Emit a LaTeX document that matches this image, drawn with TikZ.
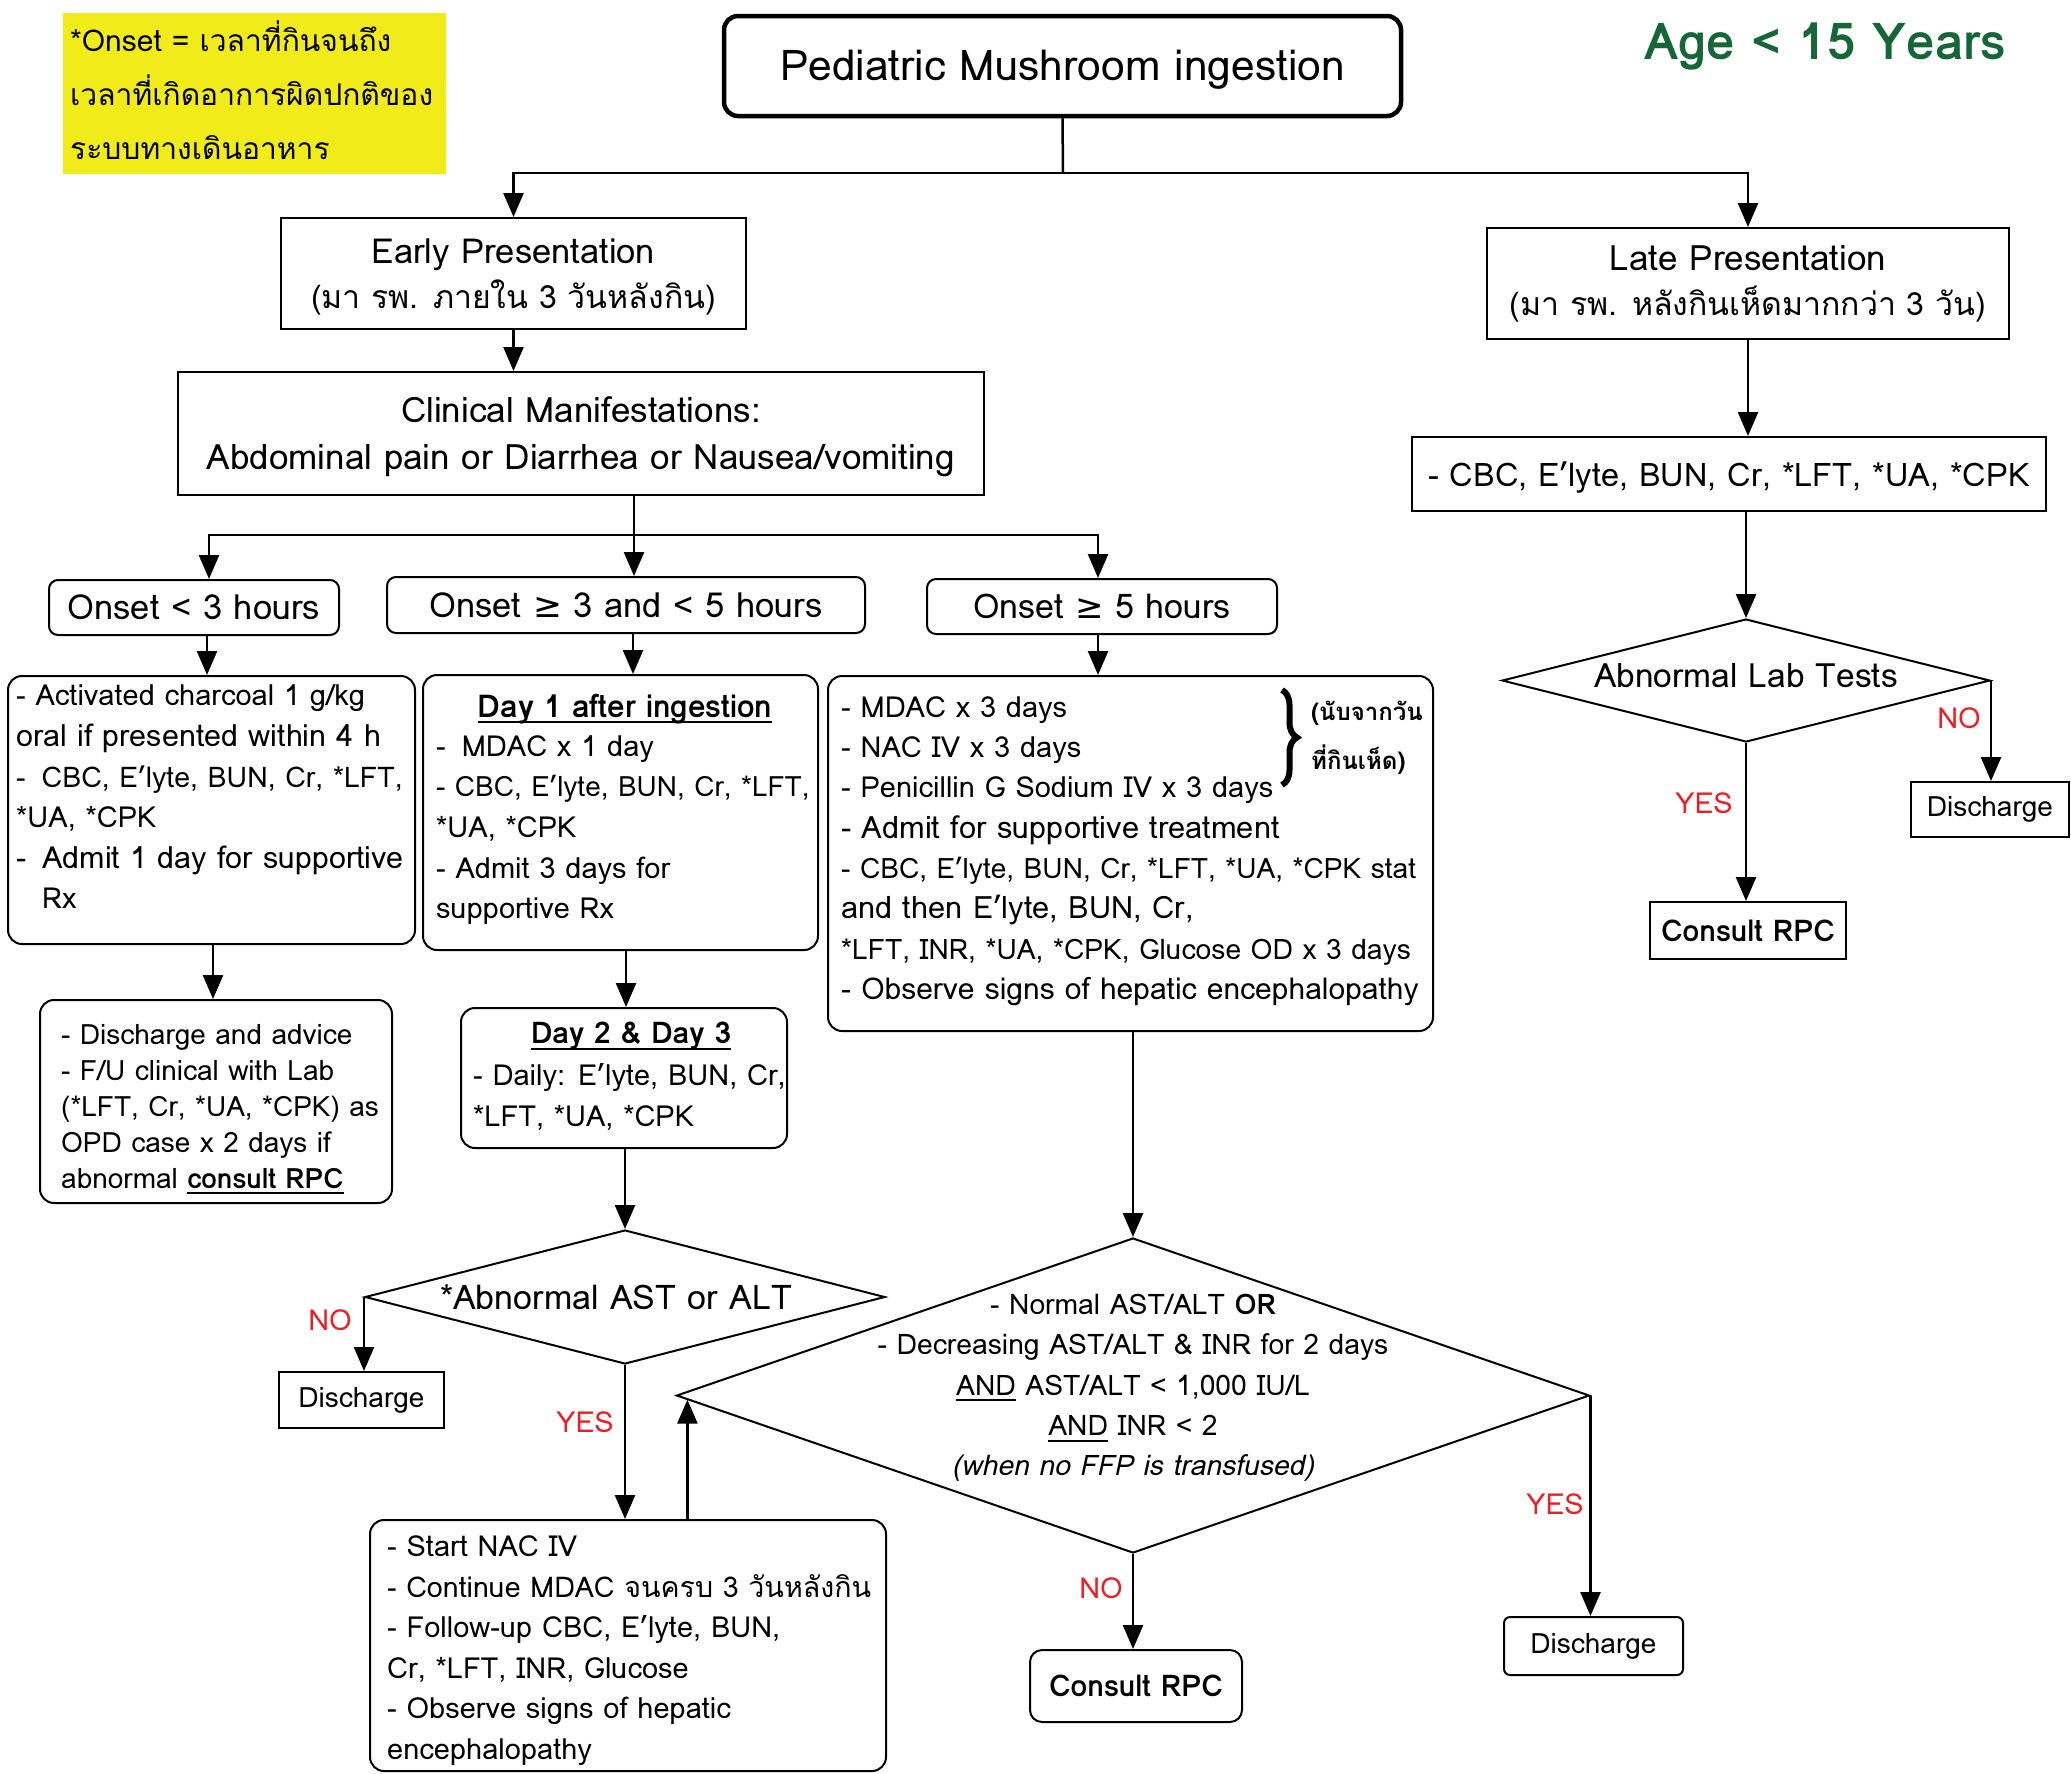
\documentclass[tikz,border=0pt]{standalone}
\usepackage{fontspec}
\setmainfont[Script=Thai]{Loma}
\newfontfamily\symf{DejaVu Sans}
\usetikzlibrary{arrows.meta,shapes.geometric,calc,decorations.pathreplacing}
\definecolor{labred}{RGB}{232,32,40}
\definecolor{agegreen}{RGB}{22,102,56}
\definecolor{notebg}{RGB}{241,235,26}
\newcommand\fs[2]{\fontsize{#1}{#2}\selectfont}
\newcommand\sz[1]{\fontsize{#1}{40.5}\selectfont}
\newcommand\myul[1]{\setbox0\hbox{#1}\rlap{\rule[-6pt]{\wd0}{2pt}}\box0\relax}
\newcommand\gee{{\symf ≥}}
\tikzset{
  bx/.style={draw, line width=2pt, inner sep=0pt},
  rbx/.style={bx, rounded corners=14pt},
  ln/.style={line width=2.5pt},
  arr/.style={line width=2.5pt, -{Triangle[length=24pt,width=20pt]}},
  lbl/.style={text=labred, inner sep=0pt, font=\fs{29}{34}},
  body/.style={anchor=west, align=left, inner sep=0pt, font=\fs{29}{40.6}},
  dia/.style={draw, diamond, line width=2pt, inner sep=0pt},
  tx/.style={inner sep=0pt, align=center},
}
\begin{document}
\begin{tikzpicture}[x=1pt,y=-1pt]
\useasboundingbox (0,0) rectangle (2071,1773);

% note
\node[fill=notebg, inner sep=0, minimum width=383pt, minimum height=161pt] (note) at (254.5,93.5) {};
\node[anchor=west, align=left, inner sep=0, font=\fs{30}{54}] (notetxt) at (70,90) {*Onset = เวลาที่กินจนถึง\\เวลาที่เกิดอาการผิดปกติของ\\ระบบทางเดินอาหาร};

% title
\node[bx, rounded corners=14pt, line width=4.5pt, minimum width=677pt, minimum height=100pt] (title) at (1062.5,66) {};
\node[tx, font=\fs{42.5}{48}] (titletxt) at (1062.5,70) {Pediatric Mushroom ingestion};
\node[font=\bfseries\fs{51}{56}, text=agegreen, inner sep=0] (age) at (1825,46) {Age < 15 Years};

% presentation boxes
\node[bx, minimum width=465pt, minimum height=111pt] (early) at (513.5,273.5) {};
\node[tx, font=\fs{32}{45}] (earlytxt) at (513.5,277.5) {{\fs{34.5}{45}Early Presentation}\\(มา รพ. ภายใน 3 วันหลังกิน)};
\node[bx, minimum width=522pt, minimum height=111pt, align=center, font=\fs{32}{45}] (late) at (1748,283.5) {{\fs{35}{45}Late Presentation}\\(มา รพ. หลังกินเห็ดมากกว่า 3 วัน)};
\node[bx, minimum width=806pt, minimum height=123pt] (clin) at (581,433.5) {};
\node[tx, font=\fs{35}{47}] (clintxt) at (581,436.5) {Clinical Manifestations:\\Abdominal pain or Diarrhea or Nausea/vomiting};

% onset boxes
\node[rbx, rounded corners=9pt, minimum width=290pt, minimum height=55pt, font=\fs{34.5}{40}] (o1) at (194,607.5) {Onset < 3 hours};
\node[rbx, rounded corners=9pt, minimum width=478pt, minimum height=56pt, font=\fs{34.5}{40}] (o2) at (626,605) {Onset \gee{} 3 and < 5 hours};
\node[rbx, rounded corners=9pt, minimum width=350pt, minimum height=55pt, font=\fs{34}{40}] (o3) at (1102,606.5) {Onset \gee{} 5 hours};

% box A
\node[rbx, minimum width=407pt, minimum height=268pt] (A) at (211.5,810) {};
\node[body] (Atxt) at (16,797) {- Activated charcoal 1 g/kg\\{\sz{30.5}oral if presented within 4 h}\\{\sz{28.5}-\hspace{16pt}CBC, E’lyte, BUN, Cr, *LFT,}\\*UA, *CPK\\{\sz{30.5}-\hspace{16pt}Admit 1 day for supportive}\\\hspace*{26pt}Rx};

% box B
\node[rbx, minimum width=395pt, minimum height=275pt] (B) at (620.5,812.5) {};
\node[inner sep=0, font=\bfseries\fs{31.5}{40}] (Bhead) at (625,709) {\myul{Day 1 after ingestion}};
\node[body] (Btxt) at (436,830) {-\hspace{16pt}MDAC x 1 day\\{\sz{28}- CBC, E’lyte, BUN, Cr, *LFT,}\\*UA, *CPK\\- Admit 3 days for\\supportive Rx};

% box C
\node[rbx, minimum width=605pt, minimum height=355pt] (C) at (1130.5,853.5) {};
\node[body, font=\fs{29}{40.3}] (Ctxt) at (841,851) {- MDAC x 3 days\\- NAC IV x 3 days\\- Penicillin G Sodium IV x 3 days\\{\sz{30.8}- Admit for supportive treatment}\\{\sz{28.1}- CBC, E’lyte, BUN, Cr, *LFT, *UA, *CPK stat}\\{\sz{30.8}and then E’lyte, BUN, Cr,}\\{\sz{28.2}*LFT, INR, *UA, *CPK, Glucose OD x 3 days}\\{\sz{30}- Observe signs of hepatic encephalopathy}};
\draw[line width=6pt, decorate, decoration={brace, amplitude=15pt}] (1282,690) -- (1282,785);
\node[anchor=west, align=left, inner sep=0, font=\bfseries\fs{24}{49}] (Cnote) at (1311,737.5) {(นับจากวัน\\ที่กินเห็ด)};

% late column
\node[bx, minimum width=634pt, minimum height=74pt] (cbc) at (1729,474) {};
\node[tx, font=\fs{32.5}{40}] (cbctxt) at (1729,478) {- CBC, E’lyte, BUN, Cr, *LFT, *UA, *CPK};
\node[dia, minimum width=488pt, minimum height=123pt] (al) at (1746,680.5) {};
\node[tx, font=\fs{33.5}{40}] (altxt) at (1746,676) {Abnormal Lab Tests};
\node[bx, minimum width=158pt, minimum height=55pt, font=\fs{28}{34}] (dr) at (1990,809.5) {Discharge};
\node[bx, minimum width=196pt, minimum height=57pt, font=\bfseries\fs{30}{34}] (cr) at (1748,930.5) {Consult RPC};

% box D
\node[rbx, minimum width=352pt, minimum height=203pt] (D) at (216,1101.5) {};
\node[body, font=\fs{28}{36}] (Dtxt) at (61,1109) {- Discharge and advice\\- F/U clinical with Lab\\(*LFT, Cr, *UA, *CPK) as\\OPD case x 2 days if\\abnormal \myul{\bfseries consult RPC}};

% Day 2 box
\node[rbx, minimum width=326pt, minimum height=140pt] (day2) at (624,1078) {};
\node[inner sep=0, font=\bfseries\fs{30}{40}] (day2head) at (631,1036) {\myul{Day 2 \& Day 3}};
\node[body] (day2txt) at (473,1097) {- Daily: E’lyte, BUN, Cr,\\*LFT, *UA, *CPK};

% AST diamond
\node[dia, minimum width=520pt, minimum height=134pt] (ast) at (625,1297) {};
\node[tx, font=\fs{34}{40}] (asttxt) at (616,1297) {*Abnormal AST or ALT};
\node[bx, minimum width=165pt, minimum height=56pt, font=\fs{28}{34}] (dl) at (361.5,1400) {Discharge};

% box E
\node[rbx, minimum width=516pt, minimum height=251pt] (E) at (628,1645.5) {};
\node[body] (Etxt) at (387,1650.5) {- Start NAC IV\\{\sz{28.6}- Continue MDAC จนครบ 3 วันหลังกิน}\\- Follow-up CBC, E’lyte, BUN,\\Cr, *LFT, INR, Glucose\\- Observe signs of hepatic\\encephalopathy};

% big diamond
\node[dia, minimum width=913pt, minimum height=315pt] (d2) at (1133,1395.5) {};
\node[tx, font=\fs{28.3}{40.3}] (d2txt) at (1133,1388) {- Normal AST/ALT \textbf{OR}\\- Decreasing AST/ALT \& INR for 2 days\\\myul{AND} AST/ALT < 1,000 IU/L\\\myul{AND} INR < 2\\\textit{(when no FFP is transfused)}};
\node[rbx, rounded corners=12pt, minimum width=212pt, minimum height=72pt, font=\bfseries\fs{30}{34}] (cb) at (1136,1686) {Consult RPC};
\node[rbx, rounded corners=6pt, minimum width=179pt, minimum height=58pt, font=\fs{28}{34}] (dbr) at (1593.5,1646) {Discharge};

% labels
\node[lbl] (noR) at (1959,718) {NO};
\node[lbl] (yesR) at (1704,803) {YES};
\node[lbl] (noL) at (330,1320) {NO};
\node[lbl] (yesL) at (585,1422) {YES};
\node[lbl] (noB) at (1101,1588) {NO};
\node[lbl] (yesB) at (1555,1504) {YES};

% connectors
\coordinate (j1) at (1063,173);
\draw[ln] (title.south) -- (j1);
\draw[arr] (j1) -| (early.north);
\draw[arr] (j1) -| (late.north);
\draw[arr] (early.south) -- (early.south |- clin.north);

\coordinate (j2) at (634,535);
\coordinate (jl) at (209,535);
\coordinate (jr) at (1098,535);
\draw[ln] (clin.south -| j2) -- (j2);
\draw[arr] (j2) -- (j2 |- o2.north);
\draw[arr] (j2) -| (o1.north -| jl);
\draw[arr] (j2) -| (o3.north -| jr);

\coordinate (xa) at (207,0);
\coordinate (xb) at (633,0);
\draw[arr] (o1.south -| xa) -- (A.north -| xa);
\draw[arr] (o2.south -| xb) -- (B.north -| xb);
\draw[arr] (o3.south -| jr) -- (C.north -| jr);

\coordinate (xad) at (213,0);
\coordinate (xbd) at (626,0);
\draw[arr] (A.south -| xad) -- (D.north -| xad);
\draw[arr] (B.south -| xbd) -- (day2.north -| xbd);
\draw[arr] (day2.south -| ast.north) -- (ast.north);
\draw[arr] (ast.west) -- (ast.west |- dl.north);
\draw[arr] (ast.south) -- (ast.south |- E.north);
\coordinate (tip) at ($(d2.west)!0.026!(d2.south)$);
\draw[arr] (E.north -| tip) -- (tip);
\draw[arr] (C.south -| d2.north) -- (d2.north);
\draw[arr] (d2.south) -- (d2.south |- cb.north);
\draw[arr] (d2.east) -- (d2.east |- dbr.north);

\draw[arr] (late.south) -- (late.south |- cbc.north);
\draw[arr] (cbc.south -| al.north) -- (al.north);
\draw[arr] (al.south) -- (al.south |- cr.north);
\draw[arr] (al.east) -- (al.east |- dr.north);
\end{tikzpicture}
\end{document}
